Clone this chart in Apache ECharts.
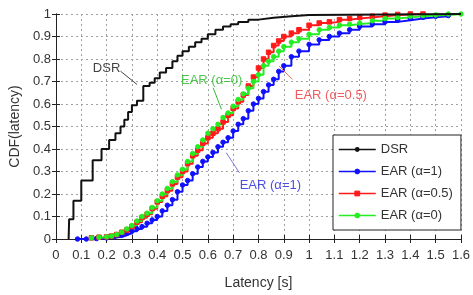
<!DOCTYPE html>
<html><head><meta charset="utf-8">
<script src="https://cdn.jsdelivr.net/npm/echarts@6/dist/echarts.min.js"></script>
<style>html,body{margin:0;padding:0;background:#fff}#c{width:473px;height:295px}</style>
</head><body><div id="c"></div>
<script>
// ---- data ----
const seriesNames = ['DSR', 'EAR (α=1)', 'EAR (α=0.5)', 'EAR (α=0)'];

const dsrX = [0.05, 0.052, 0.069, 0.10, 0.145, 0.18, 0.21, 0.235, 0.255, 0.27, 0.285, 0.30, 0.32, 0.345, 0.37, 0.39, 0.41, 0.435, 0.46, 0.48, 0.50, 0.525, 0.55, 0.575, 0.60, 0.63, 0.66, 0.69, 0.72, 0.76, 0.80, 0.86, 0.93, 1.0, 1.6];
const dsrY = [0, 0.088, 0.17, 0.26, 0.35, 0.40, 0.44, 0.47, 0.50, 0.53, 0.565, 0.595, 0.615, 0.68, 0.695, 0.715, 0.74, 0.76, 0.79, 0.815, 0.835, 0.855, 0.875, 0.89, 0.91, 0.93, 0.945, 0.955, 0.965, 0.975, 0.983, 0.99, 0.996, 1.0, 1.0];

const ear1X = [0.085, 0.12, 0.16, 0.20, 0.23, 0.26, 0.28, 0.30, 0.32, 0.34, 0.36, 0.38, 0.40, 0.42, 0.44, 0.46, 0.48, 0.50, 0.52, 0.54, 0.56, 0.58, 0.60, 0.62, 0.64, 0.66, 0.68, 0.70, 0.72, 0.74, 0.76, 0.78, 0.80, 0.82, 0.84, 0.86, 0.88, 0.90, 0.93, 0.96, 1.00, 1.04, 1.08, 1.12, 1.16, 1.20, 1.25, 1.30, 1.35, 1.40, 1.45, 1.50, 1.55];
const ear1Y = [0.0, 0.0, 0.002, 0.005, 0.01, 0.017, 0.025, 0.035, 0.045, 0.055, 0.07, 0.085, 0.10, 0.125, 0.15, 0.175, 0.21, 0.24, 0.26, 0.29, 0.32, 0.345, 0.365, 0.385, 0.41, 0.43, 0.45, 0.48, 0.51, 0.535, 0.57, 0.60, 0.625, 0.655, 0.685, 0.71, 0.745, 0.77, 0.81, 0.835, 0.865, 0.885, 0.90, 0.915, 0.93, 0.945, 0.955, 0.965, 0.972, 0.98, 0.985, 0.99, 0.993];

const ear05X = [0.14, 0.17, 0.20, 0.22, 0.24, 0.26, 0.28, 0.30, 0.32, 0.34, 0.36, 0.38, 0.40, 0.42, 0.44, 0.46, 0.48, 0.50, 0.52, 0.54, 0.56, 0.58, 0.60, 0.62, 0.64, 0.66, 0.68, 0.70, 0.72, 0.74, 0.76, 0.78, 0.80, 0.82, 0.84, 0.86, 0.88, 0.90, 0.93, 0.96, 1.00, 1.04, 1.08, 1.12, 1.16, 1.20, 1.25, 1.30, 1.35, 1.40, 1.45];
const ear05Y = [0.005, 0.008, 0.01, 0.013, 0.02, 0.03, 0.04, 0.055, 0.075, 0.095, 0.11, 0.135, 0.165, 0.19, 0.215, 0.245, 0.275, 0.30, 0.335, 0.37, 0.395, 0.425, 0.45, 0.47, 0.49, 0.52, 0.55, 0.58, 0.61, 0.64, 0.68, 0.72, 0.76, 0.80, 0.83, 0.86, 0.88, 0.90, 0.915, 0.93, 0.95, 0.96, 0.965, 0.975, 0.98, 0.985, 0.99, 0.995, 0.998, 1.0, 1.0];

const ear0X = [0.14, 0.17, 0.20, 0.22, 0.24, 0.26, 0.28, 0.30, 0.32, 0.34, 0.36, 0.38, 0.40, 0.42, 0.44, 0.46, 0.48, 0.50, 0.52, 0.54, 0.56, 0.58, 0.60, 0.62, 0.64, 0.66, 0.68, 0.70, 0.72, 0.74, 0.76, 0.78, 0.80, 0.82, 0.84, 0.86, 0.88, 0.90, 0.93, 0.96, 1.00, 1.04, 1.08, 1.12, 1.16, 1.20, 1.25, 1.30, 1.35, 1.40, 1.45, 1.50, 1.55, 1.60];
const ear0Y = [0.005, 0.008, 0.01, 0.013, 0.02, 0.03, 0.045, 0.06, 0.08, 0.10, 0.115, 0.14, 0.17, 0.20, 0.225, 0.255, 0.285, 0.31, 0.345, 0.38, 0.41, 0.44, 0.47, 0.49, 0.51, 0.54, 0.56, 0.59, 0.62, 0.645, 0.67, 0.70, 0.73, 0.77, 0.79, 0.81, 0.835, 0.855, 0.875, 0.89, 0.91, 0.93, 0.94, 0.95, 0.955, 0.96, 0.97, 0.98, 0.985, 0.99, 0.993, 0.996, 1.0, 1.0];

// annotation texts and arrows (data coordinates)
const annText = ['DSR', 'EAR (α=0)', 'EAR (α=0.5)', 'EAR (α=1)'];
const annTextAt = [[0.20, 0.758], [0.615, 0.704], [1.086, 0.638], [0.847, 0.236]];
const annArrowFrom = [[0.255, 0.746], [0.621, 0.672], [0.934, 0.709], [0.725, 0.294]];
const annArrowTo = [[0.32, 0.687], [0.654, 0.576], [0.882, 0.768], [0.673, 0.383]];
const annColor = ['#111', '#22b822', '#ee3333', '#2020dd'];
const arrowColor = ['#444', '#33bb33', '#f07050', '#7a7ad8'];

// ---- chart ----
const zip = (xs, ys) => xs.map((x, i) => [x, ys[i]]);
const FONT = 'Liberation Sans, Arial, sans-serif';
const chart = echarts.init(document.getElementById('c'), null, {renderer: 'canvas'});

const gridLine = {show: true, lineStyle: {color: '#a0a0a0', type: [2, 3], width: 1}};
const frameAxis = {show: true, lineStyle: {color: '#222', width: 1}};
const tick = {show: true, inside: true, length: 4, lineStyle: {color: '#222'}};

function earSeries(name, data, color, symbol) {
  return {
    name, type: 'line', data, step: 'end', symbol, symbolSize: 4.5, showSymbol: true,
    lineStyle: {color, width: 2}, itemStyle: {color, borderColor: color, borderWidth: 1},
    z: 3, animation: false
  };
}

chart.setOption({
  animation: false,
  backgroundColor: '#fff',
  grid: {left: 55, right: 10, top: 14, bottom: 55.5, containLabel: false},
  xAxis: [{
    type: 'value', min: 0, max: 1.6, interval: 0.1,
    axisLine: frameAxis, axisTick: tick, splitLine: gridLine,
    axisLabel: {color: '#333', fontSize: 13, fontFamily: FONT, margin: 10},
    name: 'Latency [s]', nameLocation: 'middle', nameGap: 37,
    nameTextStyle: {color: '#333', fontSize: 14, fontFamily: FONT}
  }, {
    type: 'value', min: 0, max: 1.6, interval: 0.1, position: 'top',
    axisLine: frameAxis, axisTick: tick, splitLine: {show: false}, axisLabel: {show: false}
  }],
  yAxis: [{
    type: 'value', min: 0, max: 1, interval: 0.1,
    axisLine: frameAxis, axisTick: tick, splitLine: gridLine,
    axisLabel: {color: '#333', fontSize: 13, fontFamily: FONT, margin: 5},
    name: 'CDF(latency)', nameLocation: 'middle', nameGap: 32,
    nameTextStyle: {color: '#333', fontSize: 14, fontFamily: FONT}
  }, {
    type: 'value', min: 0, max: 1, interval: 0.1, position: 'right',
    axisLine: frameAxis, axisTick: tick, splitLine: {show: false}, axisLabel: {show: false}
  }],
  legend: {
    data: seriesNames, orient: 'vertical', left: 333, top: 135,
    backgroundColor: '#fff', borderColor: '#222', borderWidth: 1,
    padding: [7, 8, 7, 5], itemWidth: 37, itemHeight: 6, itemGap: 7,
    textStyle: {color: '#333', fontSize: 13, fontFamily: FONT, lineHeight: 15},
    itemStyle: {borderWidth: 1}, lineStyle: {width: 1.5}
  },
  series: [
    {
      name: seriesNames[0], type: 'line', data: zip(dsrX, dsrY), step: 'end', symbol: 'none',
      lineStyle: {color: '#111', width: 2}, itemStyle: {color: '#111'}, z: 4
    },
    earSeries(seriesNames[1], zip(ear1X, ear1Y), '#1010ff', 'circle'),
    earSeries(seriesNames[2], zip(ear05X, ear05Y), '#ff1a1a', 'rect'),
    earSeries(seriesNames[3], zip(ear0X, ear0Y), '#22ee22', 'circle'),
    {
      name: 'annotations', type: 'scatter', symbol: 'circle', symbolSize: 0, z: 10,
      data: annText.map((t, i) => ({
        name: t, value: annTextAt[i],
        label: {show: true, position: 'inside', formatter: '{b}', color: annColor[i],
                fontSize: 13, fontFamily: FONT}
      })),
      markLine: {
        silent: true, animation: false, symbol: ['none', 'arrow'], symbolSize: [0, 7],
        label: {show: false},
        data: annArrowFrom.map((f, i) => [
          {coord: f, lineStyle: {color: arrowColor[i], width: 1, type: 'solid'}},
          {coord: annArrowTo[i]}
        ])
      }
    }
  ]
});
</script></body></html>
